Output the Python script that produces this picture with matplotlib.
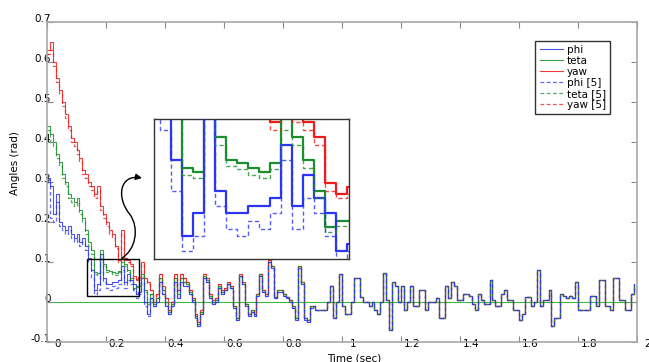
import numpy as np
import matplotlib
matplotlib.use("Agg")
import matplotlib.pyplot as plt
from matplotlib.path import Path
from matplotlib.patches import FancyArrowPatch, Rectangle
from matplotlib.transforms import ScaledTranslation

# sampling step of the recorded angles (sec)
dt = 0.01

# transient part, t = 0.00 .. 0.34
phi_head = [0.31, 0.29, 0.22, 0.27, 0.20, 0.19, 0.18, 0.19, 0.17, 0.16, 0.17, 0.15, 0.16, 0.14,
            0.11, 0.08, 0.03, 0.045, 0.12, 0.06, 0.045, 0.045, 0.05, 0.05, 0.055, 0.09, 0.05,
            0.07, 0.055, 0.045, 0.02, 0.025, 0.06, 0.0, -0.03]
teta_head = [0.44, 0.42, 0.40, 0.37, 0.35, 0.32, 0.30, 0.27, 0.26, 0.25, 0.26, 0.23, 0.21, 0.18,
             0.15, 0.13, 0.075, 0.072, 0.13, 0.095, 0.08, 0.078, 0.075, 0.072, 0.078, 0.11, 0.095,
             0.08, 0.06, 0.036, 0.04, 0.04, 0.07, 0.03, 0.0]
yaw_head = [0.63, 0.65, 0.60, 0.56, 0.53, 0.50, 0.47, 0.44, 0.41, 0.40, 0.38, 0.36, 0.33, 0.32,
            0.30, 0.29, 0.27, 0.29, 0.24, 0.22, 0.20, 0.18, 0.17, 0.14, 0.105, 0.18, 0.11,
            0.105, 0.095, 0.065, 0.058, 0.062, 0.10, 0.06, 0.05]
phi5_head = [0.30, 0.21, 0.20, 0.25, 0.19, 0.18, 0.17, 0.18, 0.16, 0.15, 0.16, 0.14, 0.15, 0.13,
             0.10, 0.06, 0.02, 0.03, 0.11, 0.05, 0.035, 0.03, 0.04, 0.035, 0.045, 0.08, 0.035,
             0.055, 0.045, 0.03, 0.01, 0.02, 0.05, -0.01, -0.035]
teta5_head = [0.43, 0.40, 0.39, 0.36, 0.34, 0.31, 0.29, 0.26, 0.25, 0.24, 0.25, 0.22, 0.20, 0.17,
              0.14, 0.12, 0.07, 0.068, 0.12, 0.09, 0.076, 0.074, 0.07, 0.068, 0.074, 0.10, 0.09,
              0.075, 0.055, 0.033, 0.037, 0.037, 0.065, 0.025, -0.005]
yaw5_head = [0.62, 0.63, 0.59, 0.55, 0.52, 0.49, 0.46, 0.43, 0.40, 0.39, 0.37, 0.35, 0.32, 0.31,
             0.29, 0.28, 0.26, 0.28, 0.23, 0.21, 0.19, 0.17, 0.16, 0.135, 0.10, 0.17, 0.105,
             0.10, 0.09, 0.06, 0.055, 0.058, 0.095, 0.055, 0.045]

# t = 0.35 .. 0.89
phi_mid = [0.01, -0.01, 0.0, 0.05, 0.02, -0.01, -0.03, -0.01, 0.05, 0.01, 0.05, 0.04, 0.04, 0.02,
           0.0, -0.04, -0.06, -0.03, 0.06, 0.05, 0.01, -0.005, 0.0, 0.035, 0.02, 0.03, 0.045,
           0.035, -0.015, -0.045, 0.065, 0.045, -0.01, -0.035, -0.025, -0.035, 0.015, 0.065,
           0.025, 0.015, 0.10, 0.085, 0.01, 0.025, 0.025, 0.015, 0.01, 0.0, -0.015, -0.045,
           0.085, 0.045, -0.045, -0.05, -0.015]
teta_mid = [0.02, -0.005, 0.01, 0.06, 0.03, 0.0, -0.025, -0.005, 0.06, 0.02, 0.06, 0.05, 0.045,
            0.025, 0.005, -0.035, -0.055, -0.025, 0.065, 0.055, 0.015, 0.0, 0.005, 0.04, 0.025,
            0.03, 0.045, 0.035, -0.01, -0.04, 0.065, 0.045, -0.005, -0.03, -0.02, -0.03, 0.02,
            0.07, 0.03, 0.02, 0.10, 0.09, 0.013, 0.03, 0.03, 0.02, 0.013, 0.005, -0.01, -0.04,
            0.09, 0.05, -0.04, -0.045, -0.01]
yaw_mid = [0.03, 0.0, 0.02, 0.07, 0.04, 0.01, -0.02, 0.0, 0.07, 0.03, 0.07, 0.06, 0.05, 0.03,
           0.01, -0.03, -0.05, -0.02, 0.07, 0.06, 0.02, 0.005, 0.01, 0.045, 0.03, 0.035, 0.05,
           0.04, -0.01, -0.04, 0.07, 0.05, -0.005, -0.03, -0.02, -0.03, 0.02, 0.07, 0.03, 0.02,
           0.105, 0.09, 0.013, 0.03, 0.03, 0.02, 0.013, 0.005, -0.01, -0.04, 0.09, 0.05, -0.04,
           -0.045, -0.01]

# steady state, t = 0.90 .. 1.99 (all angles practically coincide)
tail = [-0.01, -0.02, -0.02, -0.02, -0.02, 0.0, 0.04, -0.04, 0.0, 0.07,
        -0.01, -0.03, -0.03, 0.0, 0.06, 0.06, 0.013, 0.0, 0.0, -0.01,
        0.0, -0.02, -0.03, 0.0, 0.072, 0.005, -0.07, 0.05, 0.04, 0.0,
        0.04, -0.02, 0.0, 0.04, -0.01, -0.01, 0.03, 0.03, -0.02, 0.0,
        0.0, 0.0, 0.01, -0.04, -0.04, 0.04, 0.01, 0.05, 0.04, 0.005,
        0.005, 0.02, 0.02, 0.015, -0.005, -0.02, 0.02, 0.005, -0.005, -0.005,
        0.055, 0.005, -0.01, -0.01, 0.02, 0.03, 0.005, 0.005, -0.02, -0.02,
        -0.045, -0.03, 0.013, 0.013, -0.01, 0.0, 0.08, -0.01, 0.005, 0.005,
        0.03, -0.06, -0.04, -0.04, 0.02, 0.015, 0.01, 0.015, 0.01, 0.05,
        -0.02, -0.02, -0.02, -0.02, 0.015, 0.015, -0.01, 0.055, 0.055, -0.01,
        -0.01, -0.02, 0.06, 0.06, 0.005, 0.005, -0.02, -0.02, 0.02, 0.045]

series = [
    ("phi", phi_head + phi_mid + tail, "#2a35f5", "-"),
    ("teta", teta_head + teta_mid + tail, "#1b8f2c", "-"),
    ("yaw", yaw_head + yaw_mid + tail, "#ee1c1c", "-"),
    ("phi [5]", phi5_head + phi_mid + tail, "#2a35f5", "--"),
    ("teta [5]", teta5_head + teta_mid + tail, "#1b8f2c", "--"),
    ("yaw [5]", yaw5_head + yaw_mid + tail, "#ee1c1c", "--"),
]
for _, v, _, _ in series:
    assert len(v) == 200
t = np.arange(200) * dt

# blue dashed ends up on top, like in the original
zorders = {"phi": 2.3, "teta": 2.2, "yaw": 2.1, "phi [5]": 2.6, "teta [5]": 2.5, "yaw [5]": 2.4}

fig = plt.figure(figsize=(6.49, 3.62), dpi=100)
ax = fig.add_axes([47 / 649, 20 / 362, 590 / 649, 320 / 362])

ax.axhline(0, color="#3cb83c", lw=0.8, zorder=1)
for name, v, c, ls in series:
    if ls == "-":
        ax.plot(t, v, drawstyle="steps-post", color=c, lw=0.8, alpha=0.85, label=name,
                zorder=zorders[name])
    else:
        ax.plot(t, v, drawstyle="steps-post", color=c, lw=0.9, dashes=(3, 2), alpha=0.75,
                label=name, zorder=zorders[name])

ax.set_xlim(0, 2)
ax.set_ylim(-0.1, 0.7)
ax.set_xticks(np.arange(0, 2.01, 0.2))
ax.set_xticklabels(["0", "0.2", "0.4", "0.6", "0.8", "1", "1.2", "1.4", "1.6", "1.8", "2"])
ax.set_yticks(np.arange(-0.1, 0.71, 0.1))
ax.set_yticklabels(["-0.1", "0", "0.1", "0.2", "0.3", "0.4", "0.5", "0.6", "0.7"])
ax.tick_params(direction="in", top=True, right=True, length=4, width=0.8, color="#888888",
               labelsize=7.5, pad=2)
for s in ax.spines.values():
    s.set_color("#a8a8a8")
    s.set_linewidth(1.2)

# the original figure has its tick labels shifted off the ticks
for lab in ax.get_xticklabels():
    lab.set_transform(lab.get_transform() + ScaledTranslation(11 / 100, 6 / 100, fig.dpi_scale_trans))
for lab in ax.get_yticklabels():
    lab.set_transform(lab.get_transform() + ScaledTranslation(7 / 100, 4 / 100, fig.dpi_scale_trans))

ax.set_xlabel("Time (sec)", fontsize=7.5)
ax.xaxis.set_label_coords(0.52, -0.035)
ax.set_ylabel("Angles (rad)", fontsize=7.5)
ax.yaxis.set_label_coords(-0.045, 0.56)

leg = ax.legend(loc="upper right", bbox_to_anchor=(0.963, 0.958), fontsize=7.5, frameon=True,
                fancybox=False, edgecolor="black", handlelength=2.2, labelspacing=0.1,
                borderpad=0.4, handletextpad=0.4)
leg.get_frame().set_linewidth(1.0)
leg.set_zorder(10)

# zoom rectangle and inset
x0, x1, y0, y1 = 0.135, 0.312, 0.015, 0.107
ax.add_patch(Rectangle((x0, y0), x1 - x0, y1 - y0, fill=False, ec="black", lw=1.0, zorder=5))

verts = [(0.254, 0.11), (0.30, 0.13), (0.315, 0.185), (0.28, 0.22),
         (0.235, 0.26), (0.245, 0.32), (0.322, 0.31)]
codes = [Path.MOVETO, Path.CURVE4, Path.CURVE4, Path.CURVE4, Path.CURVE4, Path.CURVE4, Path.CURVE4]
arrow = FancyArrowPatch(path=Path(verts, codes), arrowstyle="-|>", mutation_scale=9,
                        lw=1.0, color="black", zorder=6)
ax.add_patch(arrow)

axin = fig.add_axes([154 / 649, 103 / 362, 195 / 649, 140 / 362])
for name, v, c, ls in series:
    if ls == "-":
        axin.plot(t, v, drawstyle="steps-post", color=c, lw=1.6, zorder=zorders[name])
    else:
        axin.plot(t, v, drawstyle="steps-post", color=c, lw=1.0, dashes=(3, 2), alpha=0.8,
                  zorder=zorders[name])
axin.set_xlim(x0, x1)
axin.set_ylim(y0, y1)
axin.set_xticks([])
axin.set_yticks([])
for s in axin.spines.values():
    s.set_color("#333333")
    s.set_linewidth(1.0)

fig.savefig("out.png", dpi=100)
